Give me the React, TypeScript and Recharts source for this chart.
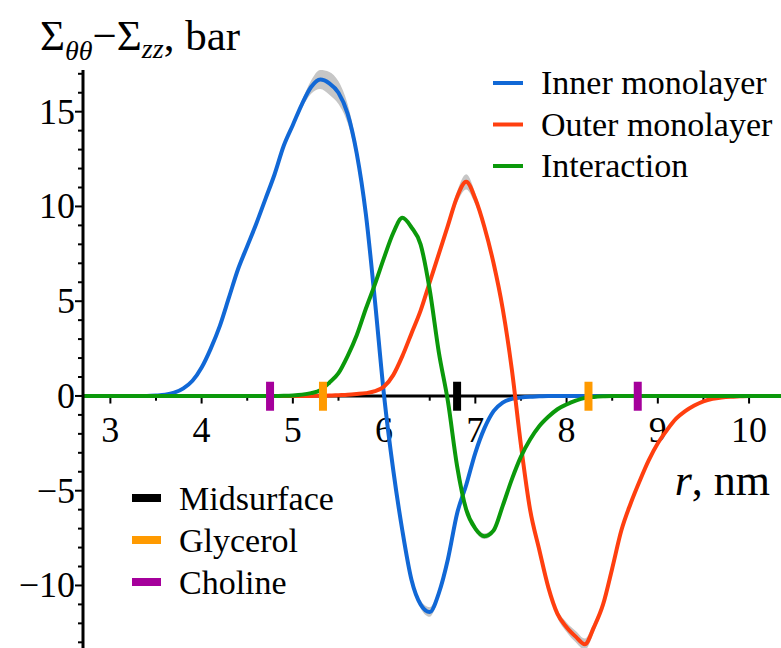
import React from 'react';
import {
    ComposedChart,
    Line,
    Area,
    XAxis,
    YAxis,
    ReferenceLine,
    ReferenceDot,
} from 'recharts';

// r, nm
const radius = [
    2.7, 2.8, 2.9, 3.0, 3.1, 3.2, 3.3, 3.4, 3.5, 3.6, 3.7, 3.8, 3.9, 4.0, 4.1, 4.2, 4.3, 4.4, 4.5, 4.6,
    4.7, 4.8, 4.9, 5.0, 5.1, 5.2, 5.3, 5.4, 5.5, 5.6, 5.7, 5.8, 5.9, 6.0, 6.1, 6.2, 6.3, 6.4, 6.5, 6.6,
    6.7, 6.8, 6.9, 7.0, 7.1, 7.2, 7.3, 7.4, 7.5, 7.6, 7.7, 7.8, 7.9, 8.0, 8.1, 8.2, 8.3, 8.4, 8.5, 8.6,
    8.7, 8.8, 8.9, 9.0, 9.1, 9.2, 9.3, 9.4, 9.5, 9.6, 9.7, 9.8, 9.9, 10.0, 10.1, 10.2, 10.3, 10.4,
];

const innerMonolayer = [
    0, 0, 0, 0, 0, 0, 0, 0, 0.02, 0.06, 0.17, 0.4, 0.8, 1.5, 2.5, 3.7, 5.2, 6.7, 7.9, 9.1,
    10.4, 11.7, 13.2, 14.3, 15.4, 16.3, 16.7, 16.5, 16.0, 14.9, 12.8, 9.6, 5.0, 0.0, -3.9, -7.1, -9.7, -11.0, -11.4, -10.4,
    -8.6, -6.2, -4.7, -3.0, -1.7, -0.8, -0.35, -0.15, -0.08, -0.04, -0.02, 0, 0, 0, 0, 0, 0, 0, 0, 0,
    0, 0, 0, 0, 0, 0, 0, 0, 0, 0, 0, 0, 0, 0, 0, 0, 0, 0,
];

const outerMonolayer = [
    0, 0, 0, 0, 0, 0, 0, 0, 0, 0, 0, 0, 0, 0, 0, 0, 0, 0, 0, 0,
    0, 0, 0, 0, 0, 0, 0.01, 0.02, 0.04, 0.06, 0.1, 0.15, 0.25, 0.5, 1.1, 2.1, 3.3, 4.5, 6.0, 7.5,
    9.0, 10.5, 11.3, 10.4, 8.9, 7.0, 4.6, 1.4, -2.6, -6.0, -8.1, -10.1, -11.5, -12.2, -12.7, -13.1, -12.2, -11.0, -9.1, -7.1,
    -5.7, -4.5, -3.4, -2.5, -1.8, -1.2, -0.8, -0.5, -0.28, -0.15, -0.08, -0.04, -0.02, 0, 0, 0, 0, 0,
];

const interaction = [
    0, 0, 0, 0, 0, 0, 0, 0, 0, 0, 0, 0, 0, 0, 0, 0, 0, 0, 0, 0,
    0, 0, 0.01, 0.03, 0.07, 0.15, 0.3, 0.7, 1.2, 2.1, 3.2, 4.6, 5.9, 7.3, 8.6, 9.4, 8.9, 8.0, 5.6, 2.3,
    -0.3, -3.7, -6.0, -7.0, -7.4, -7.1, -5.8, -4.4, -3.2, -2.3, -1.6, -1.1, -0.7, -0.45, -0.25, -0.1, -0.05, -0.02, 0, 0,
    0, 0, 0, 0, 0, 0, 0, 0, 0, 0, 0, 0, 0, 0, 0, 0, 0, 0,
];

// half-width of the grey uncertainty band
const innerSpread = [
    0, 0, 0, 0, 0, 0, 0, 0, 0, 0, 0, 0, 0, 0, 0, 0, 0, 0, 0, 0,
    0, 0, 0, 0.1, 0.2, 0.35, 0.5, 0.6, 0.6, 0.5, 0.35, 0.2, 0.1, 0, 0, 0.1, 0.15, 0.2, 0.25, 0.2,
    0.1, 0, 0, 0, 0, 0, 0, 0, 0, 0, 0, 0, 0, 0, 0, 0, 0, 0, 0, 0,
    0, 0, 0, 0, 0, 0, 0, 0, 0, 0, 0, 0, 0, 0, 0, 0, 0, 0,
];

const outerSpread = [
    0, 0, 0, 0, 0, 0, 0, 0, 0, 0, 0, 0, 0, 0, 0, 0, 0, 0, 0, 0,
    0, 0, 0, 0, 0, 0, 0, 0, 0, 0, 0, 0, 0, 0, 0, 0, 0, 0, 0, 0,
    0.15, 0.3, 0.4, 0.3, 0.15, 0.1, 0, 0, 0, 0, 0, 0.1, 0.2, 0.25, 0.3, 0.3, 0.25, 0.15, 0.1, 0,
    0, 0, 0, 0, 0, 0, 0, 0, 0, 0, 0, 0, 0, 0, 0, 0, 0, 0,
];

const interactionSpread = [
    0, 0, 0, 0, 0, 0, 0, 0, 0, 0, 0, 0, 0, 0, 0, 0, 0, 0, 0, 0,
    0, 0, 0, 0, 0, 0, 0, 0, 0, 0, 0, 0, 0, 0, 0, 0, 0, 0, 0, 0,
    0, 0, 0.1, 0.15, 0.15, 0.1, 0, 0, 0, 0, 0, 0, 0, 0, 0, 0, 0, 0, 0, 0,
    0, 0, 0, 0, 0, 0, 0, 0, 0, 0, 0, 0, 0, 0, 0, 0, 0, 0,
];

const xTicks = [3, 4, 5, 6, 7, 8, 9, 10];
const xMinorTicks = [3.5, 4.5, 5.5, 6.5, 7.5, 8.5, 9.5];
const yLabelTicks = [-10, -5, 0, 5, 10, 15];
const yAllTicks = [-13, -12, -11, -10, -9, -8, -7, -6, -5, -4, -3, -2, -1, 0, 1, 2, 3, 4, 5, 6, 7, 8, 9, 10, 11, 12, 13, 14, 15, 16, 17];

const midsurface = [6.8];
const glycerol = [5.33, 8.24];
const choline = [4.75, 8.78];

const seriesNames = ['Inner monolayer', 'Outer monolayer', 'Interaction'];
const markerNames = ['Midsurface', 'Glycerol', 'Choline'];

const BLUE = '#1168d6';
const RED = '#ff3f0f';
const GREEN = '#0b990b';
const BLACK = '#000000';
const ORANGE = '#ff9a00';
const PURPLE = '#a5009b';
const BAND = '#c6c6c6';
const FONT = 'Liberation Serif, serif';

const data = radius.map((r, i) => ({
    r,
    inner: innerMonolayer[i],
    outer: outerMonolayer[i],
    inter: interaction[i],
    innerBand: [innerMonolayer[i] - innerSpread[i], innerMonolayer[i] + innerSpread[i]],
    outerBand: [outerMonolayer[i] - outerSpread[i], outerMonolayer[i] + outerSpread[i]],
    interBand: [interaction[i] - interactionSpread[i], interaction[i] + interactionSpread[i]],
}));

const textStyle = { fontFamily: FONT, fill: BLACK } as const;

const YTick = ({ x, y, payload }: { x?: number; y?: number; payload?: { value: number } }) => {
    const v = payload ? payload.value : 0;
    const major = yLabelTicks.includes(v);
    const px = x ?? 0;
    const py = y ?? 0;
    return (
        <g>
            <line x1={px - (major ? 8 : 5)} x2={px} y1={py} y2={py} stroke={BLACK} strokeWidth={2} />
            {major && (
                <text x={px - 8} y={py + 12} textAnchor="end" style={{ ...textStyle, fontSize: 36 }}>
                    {v < 0 ? `\u2212${Math.abs(v)}` : v}
                </text>
            )}
        </g>
    );
};

const markerGroups = [
    { xs: midsurface, color: BLACK },
    { xs: glycerol, color: ORANGE },
    { xs: choline, color: PURPLE },
];

export default function App() {
    const seriesColors = [BLUE, RED, GREEN];
    const markerColors = [BLACK, ORANGE, PURPLE];
    return (
        <div style={{ position: 'absolute', left: 0, top: 0, width: 781, height: 648, background: '#fff' }}>
            <ComposedChart
                width={781}
                height={648}
                data={data}
                margin={{ top: 70, right: 0, bottom: 0, left: 0 }}
            >
                <XAxis dataKey="r" type="number" domain={[2.7, 10.35]} allowDataOverflow hide />
                <YAxis
                    type="number"
                    domain={[-13.3, 17.2]}
                    allowDataOverflow
                    ticks={yAllTicks}
                    interval={0}
                    tickSize={0}
                    tickMargin={0}
                    tickLine={false}
                    tick={<YTick />}
                    axisLine={{ stroke: BLACK, strokeWidth: 3 }}
                    width={83}
                />
                <ReferenceLine y={0} stroke={BLACK} strokeWidth={3} zIndex={350} />
                {xTicks.map((t) => (
                    <ReferenceLine
                        key={`xt${t}`}
                        segment={[{ x: t, y: 0 }, { x: t, y: -0.4 }]}
                        stroke={BLACK}
                        strokeWidth={2}
                        zIndex={350}
                    />
                ))}
                {xMinorTicks.map((t) => (
                    <ReferenceLine
                        key={`xm${t}`}
                        segment={[{ x: t, y: 0 }, { x: t, y: -0.25 }]}
                        stroke={BLACK}
                        strokeWidth={2}
                        zIndex={350}
                    />
                ))}
                {xTicks.map((t) => (
                    <ReferenceDot
                        key={`xl${t}`}
                        x={t}
                        y={0}
                        r={0}
                        zIndex={350}
                        shape={(p: { cx?: number; cy?: number }) => (
                            <text
                                x={p.cx}
                                y={(p.cy ?? 0) + 46}
                                textAnchor="middle"
                                style={{ ...textStyle, fontSize: 36 }}
                            >
                                {t}
                            </text>
                        )}
                    />
                ))}
                <Area type="monotone" dataKey="innerBand" fill={BAND} fillOpacity={1} stroke="none" isAnimationActive={false} />
                <Area type="monotone" dataKey="outerBand" fill={BAND} fillOpacity={1} stroke="none" isAnimationActive={false} />
                <Area type="monotone" dataKey="interBand" fill={BAND} fillOpacity={1} stroke="none" isAnimationActive={false} />
                <Line type="monotone" dataKey="inner" stroke={BLUE} strokeWidth={4} dot={false} isAnimationActive={false} />
                <Line type="monotone" dataKey="outer" stroke={RED} strokeWidth={4} dot={false} isAnimationActive={false} />
                <Line type="monotone" dataKey="inter" stroke={GREEN} strokeWidth={4} dot={false} isAnimationActive={false} />
                {markerGroups.map((g) =>
                    g.xs.map((m) => (
                        <ReferenceLine
                            key={`mk${m}`}
                            segment={[{ x: m, y: -0.78 }, { x: m, y: 0.75 }]}
                            stroke={g.color}
                            strokeWidth={8}
                            zIndex={450}
                        />
                    ))
                )}
            </ComposedChart>
            <svg
                width={781}
                height={648}
                style={{ position: 'absolute', left: 0, top: 0, pointerEvents: 'none' }}
            >
                <text x={40} y={50} style={{ ...textStyle, fontSize: 43 }}>
                    {'\u03A3'}
                    <tspan dy={10} style={{ fontSize: 28, fontStyle: 'italic' }}>{'\u03B8\u03B8'}</tspan>
                    <tspan dy={-10}>{'\u2212\u03A3'}</tspan>
                    <tspan dy={8} style={{ fontSize: 28, fontStyle: 'italic' }}>zz</tspan>
                    <tspan dy={-8}>, bar</tspan>
                </text>
                <text x={770} y={495} textAnchor="end" style={{ ...textStyle, fontSize: 44 }}>
                    <tspan style={{ fontStyle: 'italic' }}>r</tspan>, nm
                </text>
                {seriesNames.map((name, i) => (
                    <g key={name}>
                        <line x1={493} x2={523} y1={83 + i * 41.5} y2={83 + i * 41.5} stroke={seriesColors[i]} strokeWidth={4} />
                        <text x={541} y={94 + i * 41.5} style={{ ...textStyle, fontSize: 34 }}>{name}</text>
                    </g>
                ))}
                {markerNames.map((name, i) => (
                    <g key={name}>
                        <line x1={132} x2={161} y1={498 + i * 42} y2={498 + i * 42} stroke={markerColors[i]} strokeWidth={8} />
                        <text x={179} y={510 + i * 42} style={{ ...textStyle, fontSize: 34 }}>{name}</text>
                    </g>
                ))}
            </svg>
        </div>
    );
}
